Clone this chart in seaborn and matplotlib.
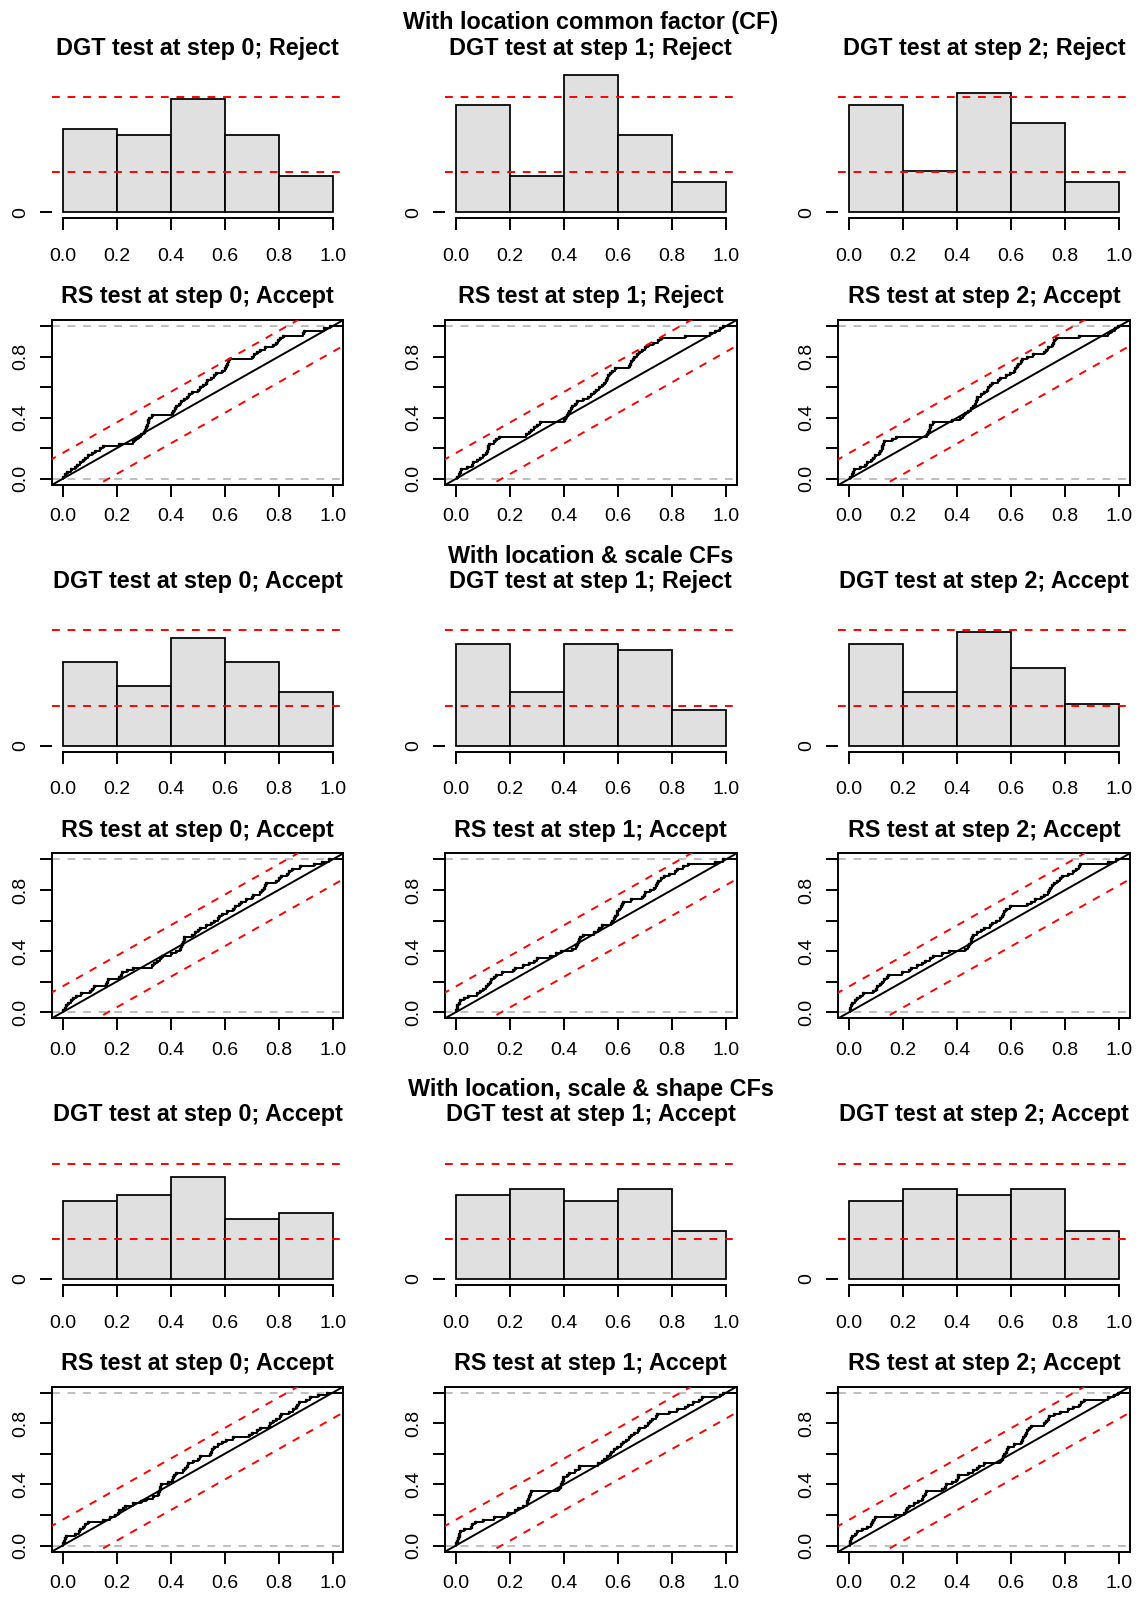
import numpy as np
import matplotlib
matplotlib.use("Agg")
import matplotlib.pyplot as plt
import seaborn as sns

# ---------------- data (PIT values, n = 65 per panel) ----------------
pit_loc_s0 = [0.003, 0.008, 0.015, 0.03, 0.045, 0.055, 0.065, 0.075, 0.085, 0.095, 0.11, 0.12, 0.14, 0.15,
              0.21, 0.26, 0.27, 0.28, 0.29, 0.30, 0.305, 0.31, 0.312, 0.315, 0.318, 0.322, 0.33,
              0.405, 0.41, 0.415, 0.42, 0.43, 0.44, 0.45, 0.46, 0.47, 0.48, 0.50, 0.51, 0.52, 0.53, 0.535, 0.55, 0.56, 0.57, 0.59,
              0.602, 0.605, 0.608, 0.612, 0.615, 0.70, 0.71, 0.72, 0.73, 0.75, 0.78, 0.79, 0.798,
              0.805, 0.815, 0.89, 0.895, 0.97, 0.99]
pit_loc_s1 = [0.005, 0.01, 0.015, 0.02, 0.04, 0.06, 0.065, 0.08, 0.09, 0.1, 0.11, 0.115, 0.118, 0.12, 0.122, 0.14, 0.15, 0.16,
              0.26, 0.27, 0.28, 0.29, 0.3, 0.31,
              0.402, 0.405, 0.41, 0.415, 0.42, 0.425, 0.43, 0.44, 0.45, 0.47, 0.49, 0.5, 0.51, 0.52, 0.53, 0.54, 0.55, 0.555, 0.56, 0.565, 0.57, 0.58, 0.59,
              0.64, 0.645, 0.65, 0.655, 0.66, 0.67, 0.68, 0.69, 0.70, 0.71, 0.73, 0.75, 0.76,
              0.85, 0.94, 0.96, 0.98, 0.99]
pit_loc_s2 = [0.005, 0.01, 0.015, 0.018, 0.04, 0.06, 0.065, 0.08, 0.09, 0.095, 0.11, 0.115, 0.12, 0.122, 0.125, 0.128, 0.16, 0.175,
              0.29, 0.292, 0.295, 0.298, 0.3, 0.31, 0.38,
              0.41, 0.42, 0.43, 0.44, 0.45, 0.46, 0.465, 0.47, 0.472, 0.475, 0.49, 0.5, 0.51, 0.515, 0.52, 0.53, 0.55, 0.56, 0.58, 0.595,
              0.61, 0.615, 0.62, 0.625, 0.635, 0.64, 0.66, 0.68, 0.72, 0.73, 0.735, 0.75, 0.755, 0.76, 0.765,
              0.85, 0.96, 0.97, 0.985, 0.995]
pit_locscale_s0 = [0.003, 0.008, 0.012, 0.02, 0.03, 0.04, 0.05, 0.07, 0.1, 0.11, 0.115, 0.16, 0.165, 0.17,
                   0.21, 0.215, 0.22, 0.24, 0.26, 0.33, 0.34, 0.35, 0.36, 0.37,
                   0.402, 0.42, 0.435, 0.44, 0.442, 0.445, 0.448, 0.45, 0.48, 0.49, 0.5, 0.51, 0.53, 0.55, 0.56, 0.575, 0.58, 0.59,
                   0.61, 0.63, 0.64, 0.655, 0.66, 0.68, 0.7, 0.705, 0.73, 0.74, 0.745, 0.75, 0.755, 0.79,
                   0.802, 0.81, 0.83, 0.84, 0.85, 0.88, 0.93, 0.96, 0.985]
pit_locscale_s1 = [0.002, 0.004, 0.006, 0.01, 0.015, 0.03, 0.045, 0.08, 0.09, 0.1, 0.11, 0.12, 0.125, 0.13, 0.14, 0.15, 0.17,
                   0.21, 0.22, 0.25, 0.27, 0.29, 0.30, 0.35, 0.37, 0.39,
                   0.43, 0.445, 0.45, 0.452, 0.455, 0.46, 0.47, 0.51, 0.525, 0.53, 0.54, 0.575, 0.58, 0.585, 0.59, 0.595, 0.598,
                   0.605, 0.61, 0.615, 0.62, 0.65, 0.69, 0.695, 0.70, 0.72, 0.735, 0.74, 0.745, 0.75, 0.76, 0.77, 0.79,
                   0.81, 0.82, 0.84, 0.86, 0.96, 0.99]
pit_locscale_s2 = [0.002, 0.004, 0.008, 0.012, 0.02, 0.03, 0.04, 0.05, 0.09, 0.1, 0.105, 0.115, 0.12, 0.13, 0.14, 0.145, 0.195,
                   0.22, 0.23, 0.25, 0.27, 0.28, 0.3, 0.31, 0.345, 0.37,
                   0.43, 0.44, 0.445, 0.45, 0.452, 0.455, 0.46, 0.475, 0.49, 0.5, 0.52, 0.53, 0.545, 0.56, 0.565, 0.57, 0.575, 0.58, 0.595,
                   0.66, 0.675, 0.69, 0.71, 0.72, 0.735, 0.74, 0.745, 0.75, 0.76, 0.77, 0.78, 0.79,
                   0.81, 0.83, 0.84, 0.85, 0.855, 0.96, 0.99]
pit_full_s0 = [0.003, 0.006, 0.01, 0.012, 0.045, 0.06, 0.065, 0.075, 0.085, 0.095, 0.15, 0.175, 0.195,
               0.205, 0.21, 0.225, 0.23, 0.26, 0.29, 0.31, 0.335, 0.355, 0.358, 0.36, 0.362, 0.365, 0.39,
               0.405, 0.41, 0.412, 0.42, 0.445, 0.455, 0.46, 0.465, 0.485, 0.5, 0.51, 0.545, 0.55, 0.555, 0.56, 0.575, 0.59,
               0.605, 0.63, 0.69, 0.7, 0.72, 0.73, 0.765, 0.77, 0.78, 0.79,
               0.805, 0.81, 0.84, 0.855, 0.865, 0.87, 0.875, 0.9, 0.915, 0.945, 0.98]
pit_full_s1 = [0.002, 0.004, 0.007, 0.01, 0.012, 0.015, 0.03, 0.055, 0.06, 0.07, 0.1, 0.14, 0.19, 0.195,
               0.22, 0.23, 0.25, 0.262, 0.265, 0.268, 0.27, 0.275, 0.28, 0.38, 0.385, 0.39, 0.393, 0.396, 0.398,
               0.41, 0.42, 0.44, 0.455, 0.457, 0.525, 0.54, 0.55, 0.56, 0.57, 0.575, 0.585, 0.595,
               0.61, 0.62, 0.63, 0.64, 0.65, 0.66, 0.675, 0.68, 0.70, 0.71, 0.72, 0.725, 0.74, 0.745, 0.79,
               0.82, 0.85, 0.86, 0.88, 0.9, 0.91, 0.98, 0.99]
pit_full_s2 = [0.002, 0.004, 0.008, 0.012, 0.02, 0.03, 0.047, 0.065, 0.08, 0.085, 0.09, 0.095, 0.17,
               0.205, 0.21, 0.215, 0.22, 0.24, 0.255, 0.27, 0.275, 0.28, 0.285, 0.345, 0.355, 0.36, 0.38, 0.395,
               0.402, 0.405, 0.44, 0.46, 0.475, 0.48, 0.5, 0.56, 0.565, 0.57, 0.575, 0.58, 0.585, 0.59,
               0.61, 0.635, 0.64, 0.645, 0.65, 0.655, 0.66, 0.665, 0.675, 0.72, 0.73, 0.735, 0.74, 0.76, 0.78,
               0.81, 0.83, 0.85, 0.86, 0.87, 0.96, 0.98, 0.995]

block_titles = ["With location common factor (CF)",
                "With location & scale CFs",
                "With location, scale & shape CFs"]
dgt_decisions = [["Reject", "Reject", "Reject"],
                 ["Accept", "Reject", "Accept"],
                 ["Accept", "Accept", "Accept"]]
rs_decisions = [["Accept", "Reject", "Accept"],
                ["Accept", "Accept", "Accept"],
                ["Accept", "Accept", "Accept"]]
steps = [0, 1, 2]
bin_edges = [0.0, 0.2, 0.4, 0.6, 0.8, 1.0]
tick_vals = [0.0, 0.2, 0.4, 0.6, 0.8, 1.0]
tick_labels = ["0.0", "0.2", "0.4", "0.6", "0.8", "1.0"]
rs_ylabels = ["0.0", "", "0.4", "", "0.8", ""]
dgt_lower, dgt_upper = 6.69, 19.31
rs_band = 0.1687

pits = [[pit_loc_s0, pit_loc_s1, pit_loc_s2],
        [pit_locscale_s0, pit_locscale_s1, pit_locscale_s2],
        [pit_full_s0, pit_full_s1, pit_full_s2]]

# ---------------- style ----------------
sns.set_style("white")
plt.rcParams['font.family'] = ['Liberation Sans', 'DejaVu Sans']
plt.rcParams['text.color'] = 'black'
plt.rcParams['xtick.color'] = 'black'
plt.rcParams['ytick.color'] = 'black'
plt.rcParams['axes.labelcolor'] = 'black'
plt.rcParams['axes.edgecolor'] = 'black'

W, H = 1139, 1600
fig = plt.figure(figsize=(W / 100, H / 100), dpi=100)

col_left = [51.7, 445.0, 838.3]
col_w = 291.7
blk = 533.33
LW = 1.4
TICK_LEN = 8.4
LAB_FS = 14
TIT_FS = 16.8
DASH = (0, (4, 4))
GREY = "#BEBEBE"


def add_ax(left, top, bottom):
    return fig.add_axes([left / W, 1 - bottom / H, col_w / W, (bottom - top) / H])


for b in range(3):
    for c in range(3):
        vals = np.array(pits[b][c])
        n = len(vals)

        # ---------- DGT histogram ----------
        ax = add_ax(col_left[c], 54.5 + blk * b, 218.3 + blk * b)
        sns.histplot(x=vals, bins=bin_edges, stat="count", color="#E0E0E0",
                     edgecolor="black", linewidth=LW * 0.9, alpha=1, ax=ax)
        ax.axhline(dgt_upper, color="red", ls=DASH, lw=LW, zorder=5)
        ax.axhline(dgt_lower, color="red", ls=DASH, lw=LW, zorder=5)
        ax.set_xlim(-0.04, 1.04)
        ax.set_ylim(-1.005, (212.3 - 54.5) / 5.97)
        for s in ["top", "right", "left"]:
            ax.spines[s].set_visible(False)
        ax.spines["bottom"].set_bounds(0, 1)
        ax.spines["bottom"].set_linewidth(LW)
        ax.spines["bottom"].set_color("black")
        ax.set_xticks(tick_vals)
        ax.set_xticklabels(tick_labels)
        ax.set_yticks([0])
        ax.set_yticklabels(["0"], rotation=90, va="center")
        ax.tick_params(axis="both", direction="out", length=TICK_LEN, width=LW,
                       labelsize=LAB_FS, left=True, bottom=True, color="black",
                       labelcolor="black")
        ax.tick_params(axis="x", pad=12.9)
        ax.tick_params(axis="y", pad=8)
        ax.set_xlabel("")
        ax.set_ylabel("")
        ax.set_title(f"DGT test at step {steps[c]}; {dgt_decisions[b][c]}",
                     fontsize=TIT_FS, fontweight="bold", pad=0, color="black")

        # ---------- RS ECDF ----------
        ax = add_ax(col_left[c], 320 + blk * b, 485 + blk * b)
        ax.axhline(0, color=GREY, ls=DASH, lw=LW, zorder=1)
        ax.axhline(1, color=GREY, ls=DASH, lw=LW, zorder=1)
        sns.ecdfplot(x=vals, ax=ax, color="black", lw=LW, zorder=3)
        srt = np.sort(vals)
        ax.plot(srt, np.arange(1, n + 1) / n, "s", ms=1.9, color="black", zorder=3)
        ax.plot([srt[-1], 1.1], [1, 1], color="black", lw=LW, zorder=3)
        ax.plot([-0.1, 1.1], [-0.1, 1.1], color="black", lw=LW, zorder=2)
        ax.plot([-0.1, 1.1], [-0.1 + rs_band, 1.1 + rs_band], color="red", ls=DASH, lw=LW, zorder=4)
        ax.plot([-0.1, 1.1], [-0.1 - rs_band, 1.1 - rs_band], color="red", ls=DASH, lw=LW, zorder=4)
        ax.set_xlim(-0.04, 1.04)
        ax.set_ylim(-0.04, 1.04)
        for s in ax.spines.values():
            s.set_visible(True)
            s.set_color("black")
            s.set_linewidth(LW)
        ax.set_xticks(tick_vals)
        ax.set_xticklabels(tick_labels)
        ax.set_yticks(tick_vals)
        ax.set_yticklabels(rs_ylabels, rotation=90, va="center")
        ax.tick_params(axis="both", direction="out", length=TICK_LEN, width=LW,
                       labelsize=LAB_FS, left=True, bottom=True, color="black",
                       labelcolor="black")
        ax.tick_params(axis="x", pad=8.4)
        ax.tick_params(axis="y", pad=8)
        ax.set_xlabel("")
        ax.set_ylabel("")
        ax.set_title(f"RS test at step {steps[c]}; {rs_decisions[b][c]}",
                     fontsize=TIT_FS, fontweight="bold", pad=12, color="black")

    # block title above the middle column
    fig.text((col_left[1] + col_w / 2) / W, 1 - (29.5 + blk * b) / H, block_titles[b],
             ha="center", va="baseline", fontsize=TIT_FS, fontweight="bold", color="black")

fig.savefig("out.png", dpi=100)
